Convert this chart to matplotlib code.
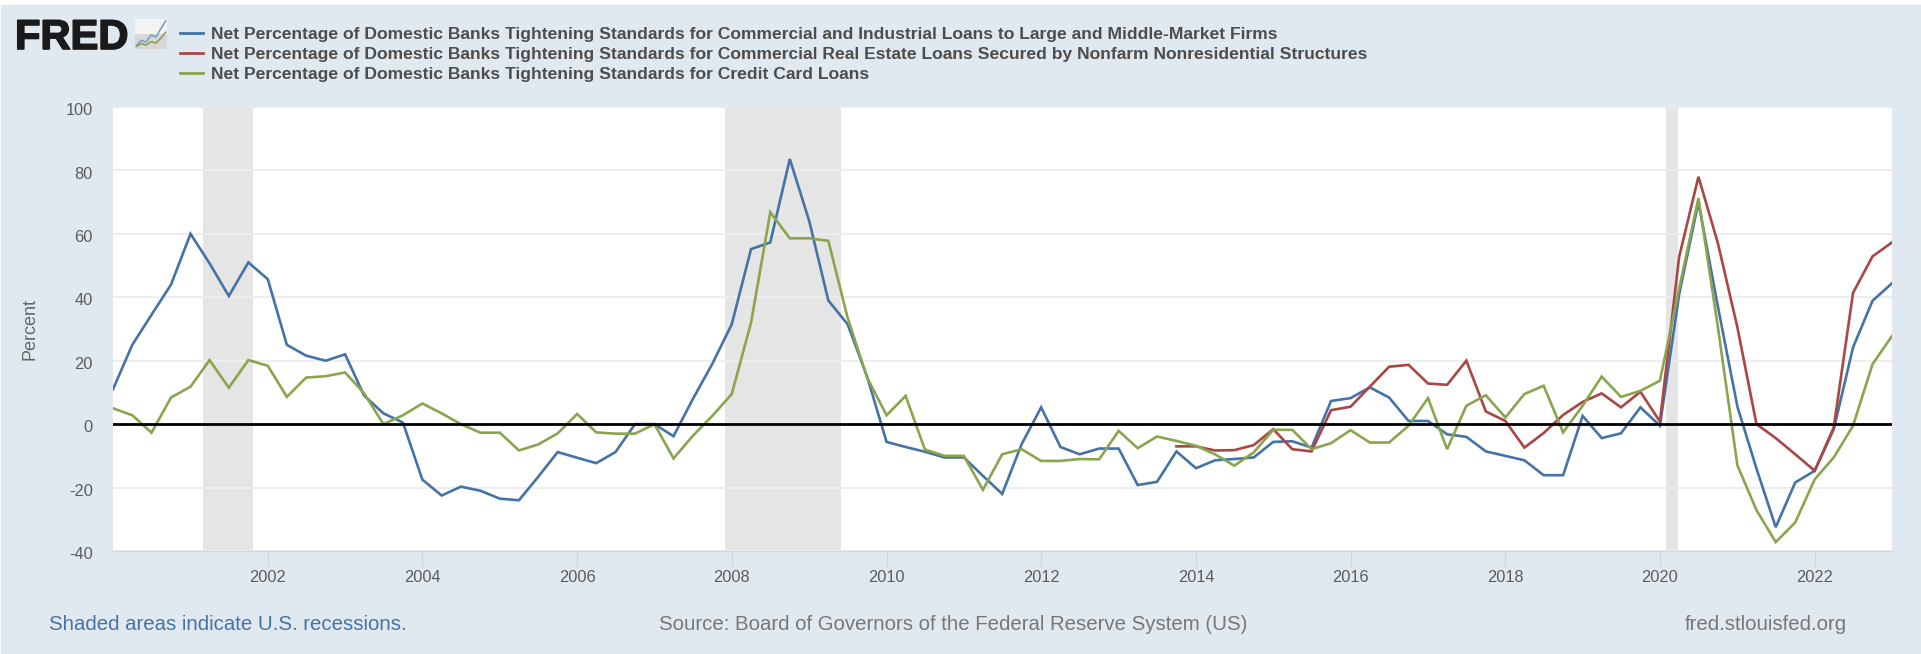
import numpy as np
import pandas as pd
import matplotlib
matplotlib.use("Agg")
import matplotlib.pyplot as plt
import matplotlib.patheffects as pe
from matplotlib.patches import Rectangle
from matplotlib.transforms import ScaledTranslation

plt.rcParams['font.family'] = ['Liberation Sans', 'DejaVu Sans']
plt.rcParams['axes.unicode_minus'] = False

W, H = 1921, 654
BG = '#e1e9f0'
BLUE, RED, GREEN = '#4572a7', '#aa4643', '#89a54e'

dates = pd.date_range('2000-01-01', periods=93, freq='QS')

ci_loans = [11, 25, 34.5, 44, 60, 50.7, 40.4, 51, 45.7, 25, 21.6, 20, 22, 9, 3.4, 0.5,
            -17.5, -22.5, -19.7, -21, -23.5, -24, -16.6, -8.8, -10.6, -12.3, -8.8, 0,
            0, -3.8, 7.9, 19, 31.5, 55.2, 57.3, 83.6, 64, 39, 31.5, 15,
            -5.6, -7.2, -8.7, -10.5, -10.5, -16.3, -22, -6.3, 5.3, -7.2, -9.5, -7.7,
            -7.7, -19.2, -18.2, -8.6, -13.9, -11.4, -11, -10.5, -5.6, -5.4, -7.4, 7.3,
            8.2, 11.6, 8.4, 1, 1, -3.2, -4, -8.6, -10, -11.4, -16.1, -16.1, 2.6, -4.4,
            -2.9, 5.3, -0.5, 41, 70, 37, 5.5, -14, -32.5, -18.4, -14.7, -1.6, 24.2, 38.9, 44.4]

cre_loans = [np.nan] * 55 + [-7, -7, -8.3, -8.2, -6.6, -1.6, -7.9, -8.6, 4.4, 5.5, 11.8, 18.1,
            18.7, 12.8, 12.4, 20, 4, 1, -7.4, -2.8, 2.9, 7, 9.7, 5.3, 10.2, 0.8, 52.8, 78,
            57, 30.5, 0, -4.4, -9.5, -14.7, -1, 41.4, 52.9, 57.3]

card_loans = [5, 2.8, -2.7, 8.4, 11.8, 20.2, 11.5, 20.2, 18.4, 8.6, 14.7, 15.1, 16.3, 9.7, 0,
              2.8, 6.5, 3.4, 0, -2.7, -2.7, -8.3, -6.4, -2.9, 3.2, -2.6, -3, -3, 0, -10.8,
              -3.7, 2.6, 9.5, 32, 66.8, 58.6, 58.6, 57.8, 33.6, 14.7, 2.8, 8.9, -8, -10, -10,
              -20.7, -9.5, -7.9, -11.6, -11.6, -11, -11.1, -2.1, -7.6, -3.9, -5.3, -6.8, -9.5,
              -13.1, -8.9, -1.8, -1.8, -7.9, -6, -1.9, -5.8, -5.8, -0.5, 8.2, -7.9, 5.8, 9.1,
              2.1, 9.5, 12.1, -2.6, 5.8, 15, 8.6, 10.5, 13.7, 42.8, 71.3, 30.5, -13, -27.1,
              -37.2, -31, -17.4, -10.5, -0.5, 18.9, 27.8]

recessions = [('2001-03-01', '2001-10-25'), ('2007-12-01', '2009-06-01'), ('2020-02-01', '2020-03-25')]
y_ticks = [-40, -20, 0, 20, 40, 60, 80, 100]
x_tick_years = list(range(2002, 2024, 2))
legend_labels = [
    'Net Percentage of Domestic Banks Tightening Standards for Commercial and Industrial Loans to Large and Middle-Market Firms',
    'Net Percentage of Domestic Banks Tightening Standards for Commercial Real Estate Loans Secured by Nonfarm Nonresidential Structures',
    'Net Percentage of Domestic Banks Tightening Standards for Credit Card Loans',
]
icon_a = [1, 2.6, 2.1, 4.2, 3.6, 6, 8.4]
icon_b = [0.8, 1.6, 1.2, 2.2, 1.8, 3.2, 5]

fig = plt.figure(figsize=(W / 100, H / 100), dpi=100, facecolor='white')

def fx(px): return px / W
def fy(py): return 1 - py / H

fig.patches.append(Rectangle((fx(1), 0), fx(W - 1), fy(5), transform=fig.transFigure, color=BG, zorder=-5))

L, R, T, B = 113, 1892, 107, 551
ax = fig.add_axes([fx(L), fy(B), fx(R - L), (B - T) / H], facecolor='white')
ax.set_xlim(pd.Timestamp('2000-01-01'), pd.Timestamp('2023-01-01'))
ax.set_ylim(-40, 100)
for s0, s1 in recessions:
    ax.axvspan(pd.Timestamp(s0), pd.Timestamp(s1), color='#e5e5e5', lw=0, zorder=1.5)
ax.set_yticks(y_ticks)
ax.grid(axis='y', color='#eeeeee', lw=1.4, zorder=1)
ax.grid(axis='x', visible=False)
ax.set_xticks([pd.Timestamp(f'{y}-01-01') for y in x_tick_years])
ax.set_xticklabels([str(y) for y in x_tick_years])
ax.tick_params(axis='x', length=10.5, width=0.8, color='#ccd6eb', labelcolor='#5c5c5c', labelsize=11.8, pad=3)
ax.tick_params(axis='y', length=0, labelcolor='#5c5c5c', labelsize=11.8, pad=14.5)
shift = ScaledTranslation(0, -1.5 / 72, fig.dpi_scale_trans)
for lab in ax.get_yticklabels():
    lab.set_transform(lab.get_transform() + shift)
for s in ax.spines.values():
    s.set_visible(False)
ax.spines['bottom'].set_visible(True)
ax.spines['bottom'].set_color('#ccd6eb')
ax.spines['bottom'].set_linewidth(1)

for vals, c in ((ci_loans, BLUE), (cre_loans, RED), (card_loans, GREEN)):
    ax.plot(dates, vals, color=c, lw=1.9, solid_joinstyle='miter', zorder=3)
ax.axhline(0, color='black', lw=2, zorder=4)

fig.text(fx(30), fy(329), 'Percent', rotation=90, ha='center', va='center', color='#666666', fontsize=13)

for i, lab in enumerate(legend_labels):
    yy = 33 + i * 20.2
    fig.add_artist(plt.Line2D([fx(180), fx(203)], [fy(yy)] * 2, color=(BLUE, RED, GREEN)[i], lw=2))
    fig.text(fx(211), fy(yy + 1), lab, ha='left', va='center', color='#4d4d4d', fontsize=12.6, fontweight='bold')

fig.text(fx(15), fy(49), 'FRED', ha='left', va='baseline', color='#1a1a1a', fontsize=30, fontweight='bold',
         path_effects=[pe.withStroke(linewidth=1.2, foreground='#1a1a1a')])
iax = fig.add_axes([fx(135), fy(49), fx(32), 30 / H])
iax.axis('off')
iax.imshow([[0.95], [0.84]], cmap='gray', vmin=0, vmax=1, aspect='auto',
           extent=(-0.3, 6.3, 0, 9), zorder=0)
iax.plot(icon_a, color='#7f9fc0', lw=1.2, zorder=2)
iax.plot(icon_b, color='#89a54e', lw=1.2, zorder=2)
iax.set_xlim(-0.3, 6.3)
iax.set_ylim(0, 9)

fig.text(fx(49), fy(624), 'Shaded areas indicate U.S. recessions.', ha='left', va='center', color='#4572a7', fontsize=14.7)
fig.text(fx(659), fy(624), 'Source: Board of Governors of the Federal Reserve System (US)', ha='left', va='center', color='#777777', fontsize=14.7)
fig.text(fx(1847), fy(624), 'fred.stlouisfed.org', ha='right', va='center', color='#777777', fontsize=14.7)

fig.savefig('out.png', dpi=100, facecolor=fig.get_facecolor())
